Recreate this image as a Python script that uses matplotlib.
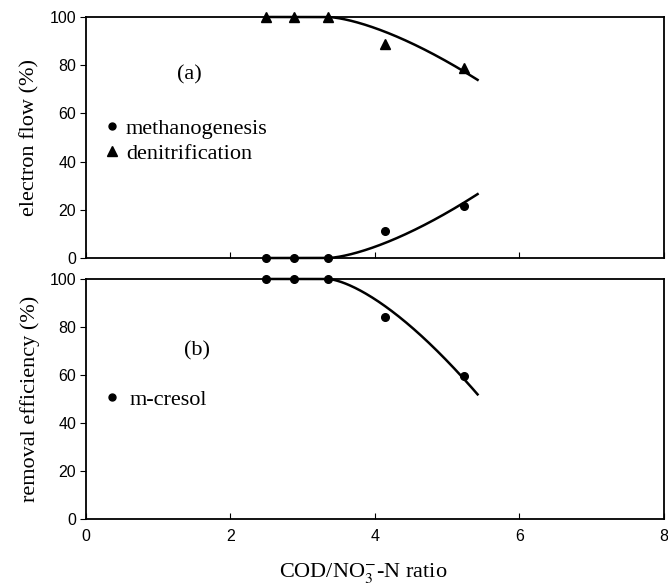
import numpy as np
import matplotlib
matplotlib.use("Agg")
import matplotlib.pyplot as plt
from matplotlib.lines import Line2D

# ---- data ----
cod_ratio = [2.49, 2.88, 3.35, 4.14, 5.23]
methanogenesis = [0, 0, 0, 11.2, 21.6]
denitrification = [100, 100, 100, 88.8, 78.8]
m_cresol = [100, 100, 100, 84.2, 59.6]

x_ticks = [0, 2, 4, 6, 8]
y_ticks = [0, 20, 40, 60, 80, 100]

# fit settings for smooth trend curves
fit_x_end = 5.42
fit_power = 1.5

plt.rcParams['font.family'] = ['Liberation Sans', 'DejaVu Sans']
plt.rcParams['mathtext.fontset'] = 'stix'
SERIF = ['Liberation Serif', 'DejaVu Serif']
FS = 16


def trend(x, y):
    """Least-squares fit y = base + a*(x-x0)^p with x0 the last flat point."""
    x = np.asarray(x, float)
    y = np.asarray(y, float)
    base = y[0]
    x0 = x[2]
    t = np.clip(x - x0, 0, None) ** fit_power
    d = (y - base)
    a = np.sum(d * t) / np.sum(t * t)
    xs = np.linspace(x[0], fit_x_end, 200)
    ts = np.clip(xs - x0, 0, None) ** fit_power
    return xs, base + a * ts


fig = plt.figure(figsize=(6.68, 5.84), dpi=100)
ax1 = fig.add_axes([0.1287, 0.5582, 0.8653, 0.4127])
ax2 = fig.add_axes([0.1287, 0.1113, 0.8653, 0.4110])

for ax in (ax1, ax2):
    ax.set_xlim(0, 8)
    ax.set_ylim(0, 100)
    ax.set_xticks(x_ticks)
    ax.set_yticks(y_ticks)
    ax.tick_params(axis='x', direction='in', length=4, width=0.8, labelsize=11.5, pad=7)
    ax.tick_params(axis='y', direction='out', length=4, width=0.8, labelsize=11.5, pad=3)
    for s in ax.spines.values():
        s.set_linewidth(1.3)

ax1.tick_params(axis='x', labelbottom=False)

# top panel
xs, ys = trend(cod_ratio, denitrification)
ax1.plot(xs, ys, color='black', lw=1.8, clip_on=False)
xs, ys = trend(cod_ratio, methanogenesis)
ax1.plot(xs, ys, color='black', lw=1.8, clip_on=False)
ax1.plot(cod_ratio, denitrification, '^', color='black', ms=7.5, clip_on=False)
ax1.plot(cod_ratio, methanogenesis, 'o', color='black', ms=5.5, clip_on=False)

ax1.text(1.43, 76, '(a)', family=SERIF, fontsize=FS, ha='center', va='center')
h1 = [Line2D([], [], ls='none', marker='o', color='black', ms=5),
      Line2D([], [], ls='none', marker='^', color='black', ms=6.5)]
ax1.legend(h1, ['methanogenesis', 'denitrification'], frameon=False,
           prop={'family': SERIF, 'size': FS}, loc='upper left',
           bbox_to_anchor=(0.035, 0.58), handlelength=0.5, handletextpad=0.38,
           labelspacing=0.2, borderaxespad=0, borderpad=0)
ax1.set_ylabel('electron flow (%)', family=SERIF, fontsize=FS)
ax1.yaxis.set_label_coords(-0.08, 0.5)

# bottom panel
xs, ys = trend(cod_ratio, m_cresol)
ax2.plot(xs, ys, color='black', lw=1.8, clip_on=False)
ax2.plot(cod_ratio, m_cresol, 'o', color='black', ms=5.5, clip_on=False)

ax2.text(1.53, 70, '(b)', family=SERIF, fontsize=FS, ha='center', va='center')
h2 = [Line2D([], [], ls='none', marker='o', color='black', ms=5)]
ax2.legend(h2, ['m-cresol'], frameon=False,
           prop={'family': SERIF, 'size': FS}, loc='upper left',
           bbox_to_anchor=(0.035, 0.54), handlelength=0.5, handletextpad=0.56,
           borderaxespad=0, borderpad=0)
ax2.set_ylabel('removal efficiency (%)', family=SERIF, fontsize=FS)
ax2.yaxis.set_label_coords(-0.08, 0.5)
ax2.set_xlabel('COD/NO$_3^{-}$-N ratio', family=SERIF, fontsize=FS)
ax2.xaxis.set_label_coords(0.479, -0.175)

fig.savefig('out.png', dpi=100)
